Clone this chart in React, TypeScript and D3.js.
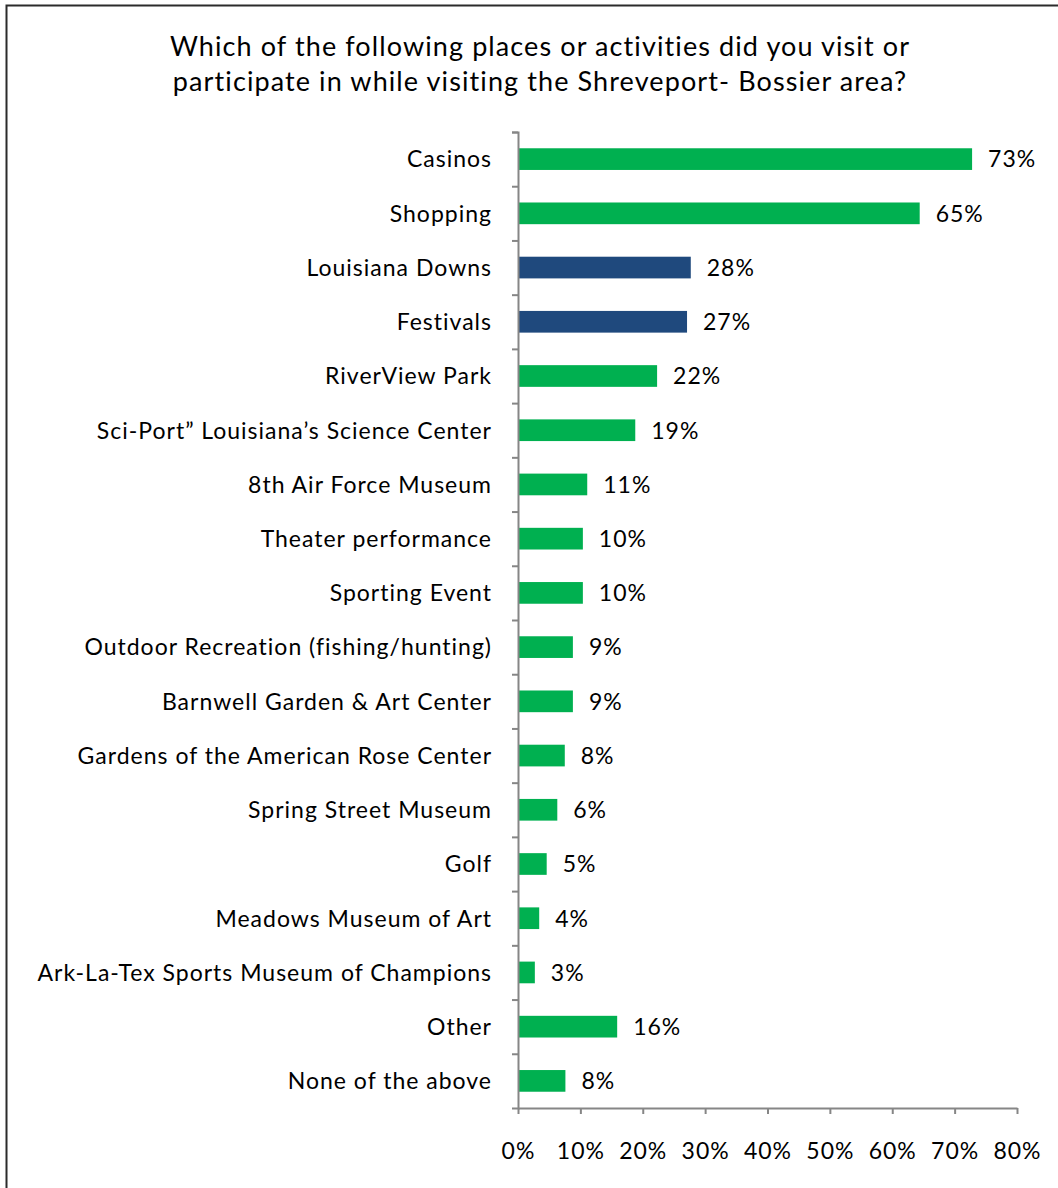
import React, { useEffect, useRef } from 'react';
import { select, scaleLinear, scaleBand, axisBottom, axisLeft } from 'd3';

const categories = [
  'Casinos',
  'Shopping',
  'Louisiana Downs',
  'Festivals',
  'RiverView Park',
  'Sci-Port\u201D Louisiana\u2019s Science Center',
  '8th Air Force Museum',
  'Theater performance',
  'Sporting Event',
  'Outdoor Recreation (fishing/hunting)',
  'Barnwell Garden & Art Center',
  'Gardens of the American Rose Center',
  'Spring Street Museum',
  'Golf',
  'Meadows Museum of Art',
  'Ark-La-Tex Sports Museum of Champions',
  'Other',
  'None of the above',
];

// bar lengths (percent)
const values = [72.8, 64.4, 27.7, 27.1, 22.3, 18.8, 11.1, 10.4, 10.4, 8.8, 8.8, 7.5, 6.3, 4.6, 3.4, 2.7, 15.9, 7.6];
// printed data labels
const valueLabels = ['73%', '65%', '28%', '27%', '22%', '19%', '11%', '10%', '10%', '9%', '9%', '8%', '6%', '5%', '4%', '3%', '16%', '8%'];
// highlighted rows
const highlighted = ['Louisiana Downs', 'Festivals'];

const xTicks = [0, 10, 20, 30, 40, 50, 60, 70, 80];

const titleLines = [
  'Which of the following places or activities did you visit or',
  'participate in while visiting the Shreveport- Bossier area?',
];

const W = 1058;
const H = 1188;
const FONT = 'Lato, "Open Sans", sans-serif';
const LS = 1; // letter spacing to approximate the wider original face

const App: React.FC = () => {
  const svgRef = useRef<SVGSVGElement | null>(null);

  useEffect(() => {
    if (!svgRef.current) return;
    const svg = select(svgRef.current);
    svg.selectAll('*').remove();

    const left = 518;
    const right = 1017;
    const top = 132;
    const bottom = 1108;

    // chart frame
    svg.append('rect')
      .attr('x', 6.5)
      .attr('y', 5.5)
      .attr('width', W + 20)
      .attr('height', H + 20)
      .attr('fill', '#fff')
      .attr('stroke', '#2b2b2b')
      .attr('stroke-width', 2);

    // title
    svg.append('g')
      .selectAll('text')
      .data(titleLines)
      .enter()
      .append('text')
      .attr('x', 540)
      .attr('y', (_d, i) => 56 + i * 35)
      .attr('text-anchor', 'middle')
      .attr('font-family', FONT)
      .attr('font-size', 27)
      .attr('letter-spacing', 1.1)
      .attr('fill', '#000')
      .text(d => d);

    const x = scaleLinear().domain([0, 80]).range([left, right]);
    const y = scaleBand<string>()
      .domain(categories)
      .range([top, bottom])
      .paddingInner(0.6)
      .paddingOuter(0.3);

    // bars
    svg.append('g')
      .selectAll('rect')
      .data(categories)
      .enter()
      .append('rect')
      .attr('x', x(0) + 1)
      .attr('y', d => y(d) as number)
      .attr('width', (_d, i) => x(values[i]) - x(0) - 1)
      .attr('height', y.bandwidth())
      .attr('fill', d => (highlighted.includes(d) ? '#1f497d' : '#00b050'));

    // value labels
    svg.append('g')
      .selectAll('text')
      .data(categories)
      .enter()
      .append('text')
      .attr('x', (_d, i) => x(values[i]) + 16)
      .attr('y', d => (y(d) as number) + y.bandwidth() / 2)
      .attr('dy', '0.36em')
      .attr('font-family', FONT)
      .attr('font-size', 23)
      .attr('letter-spacing', LS)
      .attr('fill', '#000')
      .text((_d, i) => valueLabels[i]);

    // y axis with boundary ticks
    const yEdge = scaleLinear().domain([0, categories.length]).range([top, bottom]);
    const yAxis = svg.append('g')
      .attr('transform', `translate(${left},0)`)
      .call(
        axisLeft(yEdge)
          .tickValues(categories.map((_c, i) => i))
          .tickSize(6)
          .tickFormat(() => '')
      );
    yAxis.select('.domain').attr('stroke', '#868686').attr('stroke-width', 2);
    yAxis.selectAll('.tick line').attr('stroke', '#868686').attr('stroke-width', 2);

    // category labels
    svg.append('g')
      .selectAll('text')
      .data(categories)
      .enter()
      .append('text')
      .attr('x', 492)
      .attr('y', d => (y(d) as number) + y.bandwidth() / 2)
      .attr('dy', '0.36em')
      .attr('text-anchor', 'end')
      .attr('font-family', FONT)
      .attr('font-size', 23)
      .attr('letter-spacing', LS)
      .attr('fill', '#000')
      .style('font-variant-ligatures', 'none')
      .text(d => d);

    // x axis
    const xAxis = svg.append('g')
      .attr('transform', `translate(0,${bottom})`)
      .call(
        axisBottom(x)
          .tickValues(xTicks)
          .tickSize(6)
          .tickSizeOuter(0)
          .tickPadding(29)
          .tickFormat(d => `${d}%`)
      );
    xAxis.select('.domain').attr('stroke', '#868686').attr('stroke-width', 2);
    xAxis.selectAll('.tick line').attr('stroke', '#868686').attr('stroke-width', 2);
    xAxis.selectAll('.tick text')
      .attr('font-family', FONT)
      .attr('font-size', 23)
      .attr('letter-spacing', LS)
      .attr('fill', '#000');
  }, []);

  return (
    <svg
      ref={svgRef}
      width={W}
      height={H}
      style={{ position: 'absolute', left: 0, top: 0, background: '#fff' }}
    />
  );
};

export default App;
